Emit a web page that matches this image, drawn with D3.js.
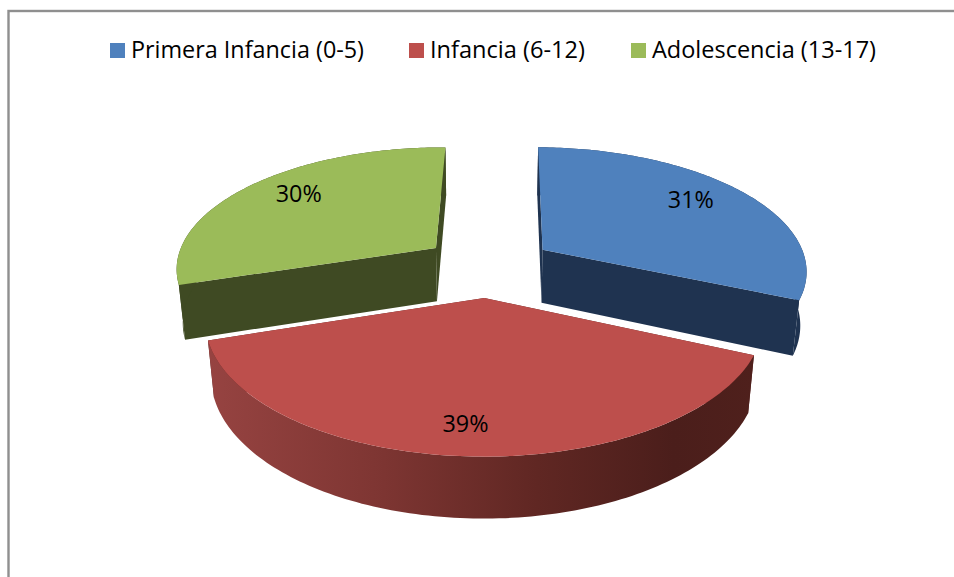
<!DOCTYPE html>
<html>
<head>
<meta charset="utf-8">
<script src="https://cdnjs.cloudflare.com/ajax/libs/d3/7.8.5/d3.min.js"></script>
<style>html,body{margin:0;padding:0;background:#fff}svg{display:block}</style>
</head>
<body>
<svg id="c" width="954" height="577"></svg>
<script>
const categories = ["Primera Infancia (0-5)", "Infancia (6-12)", "Adolescencia (13-17)"];
const values = [31.4, 38.5, 30.1];
const topColors = ["#4f81bd", "#bd4f4c", "#9bbb59"];
const sideColors = ["#1f3350", "url(#rim)", "#3f4a23"];
const radialColors = ["#1f3350", "#5a2422", "#3f4a23"];

const svg = d3.select("#c");
const W = 954, H = 577;

// Frame (only top and left are visible in the crop)
svg.append("rect").attr("x", 8.5).attr("y", 11).attr("width", W + 20).attr("height", H + 20)
  .attr("fill", "#fff").attr("stroke", "#8f8f8f").attr("stroke-width", 2.4);

// Gradient for the red rim
const defs = svg.append("defs");
const grad = defs.append("linearGradient").attr("id", "rim").attr("gradientUnits", "userSpaceOnUse")
  .attr("x1", 210).attr("x2", 755).attr("y1", 0).attr("y2", 0);
[[0, "#964341"], [0.3, "#7f3633"], [0.6, "#602723"], [0.85, "#4b1e1b"], [1, "#4f201c"]]
  .forEach(([o, c]) => grad.append("stop").attr("offset", o).attr("stop-color", c));

// Perspective projection of a pie lying flat
const X0 = 488, Y0 = 266, R = 265, A = 123, K = 0.155, DEPTH = 55, SHRINK = 0.02, EXPLODE = 0.25;
const sliceRadius = i => [1, 1, 0.985][i];
const labelTurn = i => [-3, 1, 4][i] * Math.PI / 180;
const labelRadius = i => [0.77, 0.82, 0.77][i];
const START = 0.7 * Math.PI / 180;

function project(u, v, z) {
  const w = 1 - K * v + SHRINK * z;
  return [X0 + R * u / w, Y0 + (A * v + DEPTH * z) / w];
}

const pie = d3.pie().sort(null).value(d => d).startAngle(START).endAngle(START + 2 * Math.PI)(values);
const slices = pie.map((p, i) => {
  const mid = (p.startAngle + p.endAngle) / 2;
  return { i, start: p.startAngle, end: p.endAngle, mid, r: sliceRadius(i),
           ox: EXPLODE * Math.sin(mid), oy: -EXPLODE * Math.cos(mid), value: p.value };
});
const pt = (s, a, r, z) => project(s.ox + r * Math.sin(a), s.oy - r * Math.cos(a), z);
const arcPts = (s, z) => d3.range(0, 121).map(k => pt(s, s.start + (s.end - s.start) * k / 120, s.r, z));
const line = d3.line();

// Back slices first, nearest (red) last
[2, 0, 1].forEach(i => {
  const s = slices[i];
  const g = svg.append("g");
  const apexT = pt(s, 0, 0, 0), apexB = pt(s, 0, 0, 1);
  const st = pt(s, s.start, s.r, 0), sb = pt(s, s.start, s.r, 1);
  const et = pt(s, s.end, s.r, 0), eb = pt(s, s.end, s.r, 1);
  g.append("path").attr("d", line([apexT, st, sb, apexB]) + "Z").attr("fill", radialColors[i]);
  g.append("path").attr("d", line([apexT, et, eb, apexB]) + "Z").attr("fill", radialColors[i]);
  const topArc = arcPts(s, 0), botArc = arcPts(s, 1);
  g.append("path").attr("d", line(topArc.concat(botArc.slice().reverse())) + "Z").attr("fill", sideColors[i]);
  g.append("path").attr("d", line([apexT].concat(topArc)) + "Z").attr("fill", topColors[i]);
});

// Data labels
slices.forEach(s => {
  const [x, y] = pt(s, s.mid + labelTurn(s.i), labelRadius(s.i), 0);
  svg.append("text").attr("x", x).attr("y", y).attr("dy", "0.36em").attr("text-anchor", "middle")
    .attr("font-family", "'Open Sans', 'Noto Sans', sans-serif").attr("font-size", 23)
    .attr("textLength", 46).attr("lengthAdjust", "spacingAndGlyphs")
    .attr("fill", "#000").text(Math.round(s.value) + "%");
});

// Legend
const legendX = d3.scaleOrdinal().domain(categories).range([110, 409, 631]);
const legendW = d3.scaleOrdinal().domain(categories).range([233, 155, 224]);
categories.forEach((c, i) => {
  svg.append("rect").attr("x", legendX(c)).attr("y", 43).attr("width", 15).attr("height", 15).attr("fill", topColors[i]);
  svg.append("text").attr("x", legendX(c) + 21).attr("y", 58)
    .attr("font-family", "'Open Sans', 'Noto Sans', sans-serif").attr("font-size", 23)
    .attr("textLength", legendW(c)).attr("lengthAdjust", "spacingAndGlyphs")
    .attr("fill", "#000").text(c);
});
</script>
</body>
</html>
